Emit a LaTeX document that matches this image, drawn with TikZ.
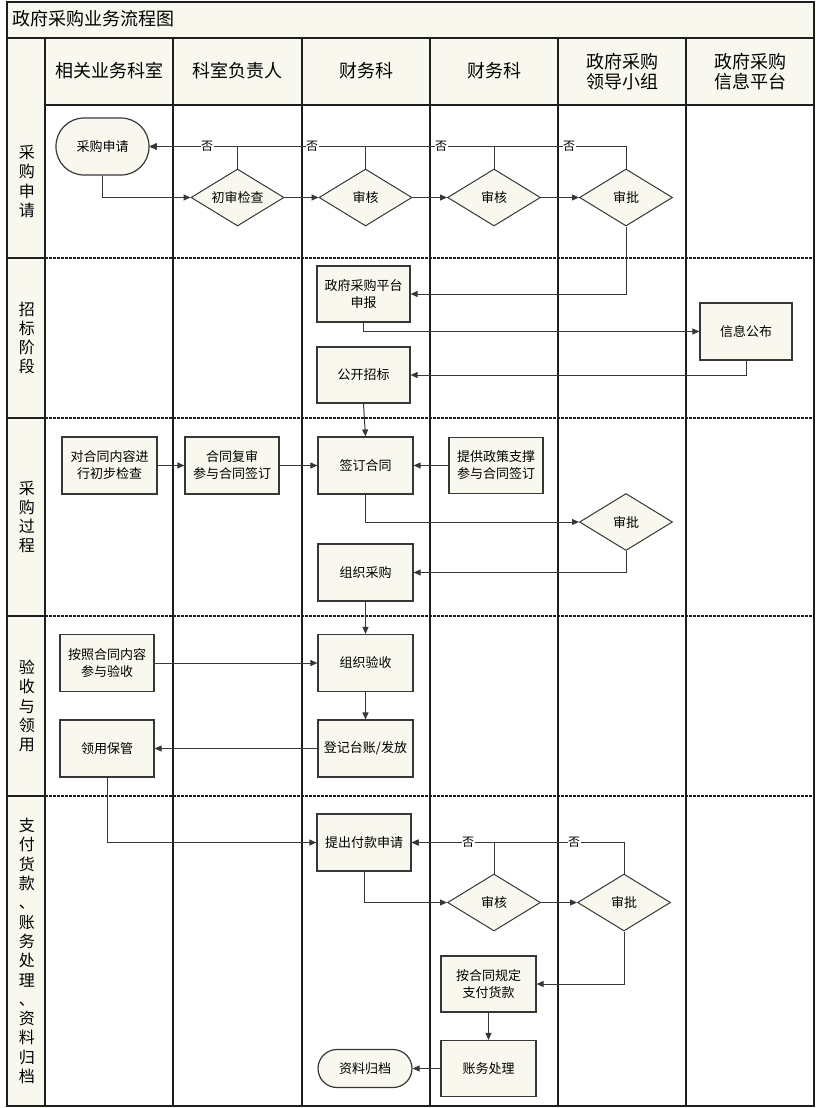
\documentclass[tikz,border=0pt]{standalone}
\usepackage{fontspec}
\newfontfamily\cjk{Noto Sans CJK SC}
\usetikzlibrary{shapes.geometric,arrows.meta}
\definecolor{cream}{RGB}{248,248,238}
\definecolor{ln}{RGB}{55,55,55}
\definecolor{frm}{RGB}{30,30,30}
\begin{document}
\begin{tikzpicture}[x=1pt,y=-1pt,
  frame/.style={draw=frm,line width=1.3pt},
  dashline/.style={draw=frm,line width=1.1pt,dash pattern=on 2.7pt off 1.3pt},
  box/.style={draw=ln,line width=1.2pt,fill=cream,minimum width=93pt,minimum height=56pt,inner sep=1pt,align=center,font=\cjk\fontsize{13}{17}\selectfont},
  term/.style={box,rounded corners=#1},
  dia/.style={diamond,draw=ln,line width=1pt,fill=cream,minimum width=93pt,minimum height=57pt,aspect=1.63,inner sep=0pt,font=\cjk\fontsize{13}{17}\selectfont},
  hdr/.style={align=center,font=\cjk\fontsize{18}{20}\selectfont},
  rowlab/.style={align=center,font=\cjk\fontsize{16}{19.3}\selectfont},
  no/.style={fill=white,inner sep=0.5pt,font=\cjk\fontsize{12}{12}\selectfont},
  arr/.style={draw=ln,line width=1pt,-{Triangle[length=7pt,width=6pt]}}
]
\useasboundingbox (0,0) rectangle (816,1108);
% backgrounds
\fill[cream] (7,2) rectangle (814,105);
\fill[cream] (7,105) rectangle (45,1106);
% frame and lanes
\draw[frame] (7,2) rectangle (814,1106);
\draw[frame] (7,38) -- (814,38);
\draw[frame] (45,105) -- (814,105);
\foreach \xx in {45,173,302,430,558,686} \draw[frame] (\xx,38) -- (\xx,1106);
\foreach \yy in {258,418,616,796} {
  \draw[frame] (7,\yy) -- (45,\yy);
  \draw[dashline] (45,\yy) -- (814,\yy);
}
% title
\node[anchor=west,font=\cjk\fontsize{18}{20}\selectfont] (title) at (9,19) {政府采购业务流程图};
% headers
\node[hdr] (h1) at (109,71) {相关业务科室};
\node[hdr] (h2) at (237.5,71) {科室负责人};
\node[hdr] (h3) at (366,71) {财务科};
\node[hdr] (h4) at (494,71) {财务科};
\node[hdr] (h5) at (622,72) {政府采购\\领导小组};
\node[hdr] (h6) at (750,72) {政府采购\\信息平台};
% row labels
\node[rowlab] (r1) at (27,181.5) {采\\购\\申\\请};
\node[rowlab] (r2) at (27,338) {招\\标\\阶\\段};
\node[rowlab] (r3) at (27,517) {采\\购\\过\\程};
\node[rowlab] (r4) at (27,706) {验\\收\\与\\领\\用};
\node[rowlab] (r5) at (27,951) {支\\付\\货\\款\\、\\账\\务\\处\\理\\、\\资\\料\\归\\档};
% row 1
\node[term=28pt,minimum height=57pt] (sq) at (102.5,146.5) {采购申请};
\node[dia] (cs) at (237.5,197.5) {初审检查};
\node[dia] (sh1) at (365.5,197.5) {审核};
\node[dia] (sh2) at (494,197.5) {审核};
\node[dia] (sp1) at (626,197.5) {审批};
% row 2
\node[box] (pt) at (363.5,294) {政府采购平台\\申报};
\node[box,minimum width=92pt,minimum height=57pt] (xx) at (746,331.5) {信息公布};
\node[box] (gk) at (363.5,375) {公开招标};
% row 3
\node[box,minimum width=95pt,minimum height=57pt] (dh) at (109.5,465.5) {对合同内容进\\行初步检查};
\node[box,minimum width=94pt,minimum height=57pt] (fs) at (232,465.5) {合同复审\\参与合同签订};
\node[box,minimum width=95pt,minimum height=57pt] (qd) at (365.5,465.5) {签订合同};
\node[box,minimum width=94pt,minimum height=56pt] (tg) at (496,465.5) {提供政策支撑\\参与合同签订};
\node[dia] (sp2) at (626,522) {审批};
\node[box,minimum width=95pt,minimum height=57pt] (zc) at (365.5,572.5) {组织采购};
% row 4
\node[box,minimum width=94pt,minimum height=57pt] (an) at (107,663) {按照合同内容\\参与验收};
\node[box,minimum width=95pt,minimum height=57pt] (ys) at (365.5,663) {组织验收};
\node[box,minimum width=95pt,minimum height=57pt] (dj) at (365.5,748.5) {登记台账/发放};
\node[box,minimum width=94pt,minimum height=57pt] (ly) at (107,748.5) {领用保管};
% row 5
\node[box,minimum width=94pt,minimum height=57pt] (tc) at (364,842.5) {提出付款申请};
\node[dia] (sh3) at (494,902.5) {审核};
\node[dia] (sp3) at (624,902.5) {审批};
\node[box,minimum width=95pt,minimum height=56pt] (zf) at (488.5,984) {按合同规定\\支付货款};
\node[box,minimum width=95pt,minimum height=56pt] (zw) at (488.5,1068.5) {账务处理};
\node[term=19pt,minimum width=94pt,minimum height=38pt] (gd) at (365,1068.5) {资料归档};
% connectors row 1
\draw[arr] (sq.south) |- (cs.west);
\draw[arr] (cs.east) -- (sh1.west);
\draw[arr] (sh1.east) -- (sh2.west);
\draw[arr] (sh2.east) -- (sp1.west);
\draw[arr] (cs.north) |- (sq.east);
\draw[arr] (sh1.north) |- (sq.east);
\draw[arr] (sh2.north) |- (sq.east);
\draw[arr] (sp1.north) |- (sq.east);
\node[no] (n1) at (207,146.5) {否};
\node[no] (n2) at (312,146.5) {否};
\node[no] (n3) at (441,146.5) {否};
\node[no] (n4) at (569,146.5) {否};
% row 2
\draw[arr] (sp1.south) |- (pt.east);
\draw[arr] (pt.south) |- (xx.west);
\draw[arr] (xx.south) |- (gk.east);
\draw[arr] (gk.south) -- (qd.north);
% row 3
\draw[arr] (dh.east) -- (fs.west);
\draw[arr] (fs.east) -- (qd.west);
\draw[arr] (tg.west) -- (qd.east);
\draw[arr] (qd.south) |- (sp2.west);
\draw[arr] (sp2.south) |- (zc.east);
\draw[arr] (zc.south) -- (ys.north);
% row 4
\draw[arr] (an.east) -- (ys.west);
\draw[arr] (ys.south) -- (dj.north);
\draw[arr] (dj.west) -- (ly.east);
\draw[arr] (ly.south) |- (tc.west);
% row 5
\draw[arr] (tc.south) |- (sh3.west);
\draw[arr] (sh3.east) -- (sp3.west);
\draw[arr] (sh3.north) |- (tc.east);
\draw[arr] (sp3.north) |- (tc.east);
\node[no] (n5) at (468,842.5) {否};
\node[no] (n6) at (574,842.5) {否};
\draw[arr] (sp3.south) |- (zf.east);
\draw[arr] (zf.south) -- (zw.north);
\draw[arr] (zw.west) -- (gd.east);
\end{tikzpicture}
\end{document}
